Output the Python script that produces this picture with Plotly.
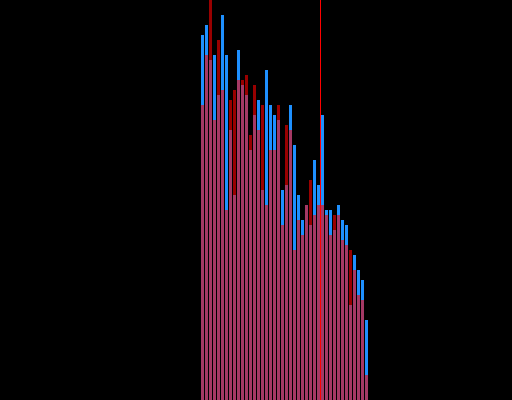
import plotly.graph_objects as go

# Bin index and counts
bins = list(range(42))
counts_blue = [73, 75, 68, 69, 61, 77, 69, 54, 41, 70, 63, 61, 50, 57, 60, 42,
               66, 59, 57, 56, 42, 43, 59, 51, 41, 36, 39, 35, 48, 43, 57, 38,
               38, 34, 39, 36, 35, 19, 29, 26, 24, 16]
counts_red = [59, 69, 85, 56, 72, 62, 38, 60, 62, 64, 64, 65, 53, 63, 54, 59,
              39, 50, 50, 59, 35, 55, 54, 30, 36, 33, 39, 44, 37, 39, 39, 37,
              33, 37, 37, 32, 31, 30, 26, 21, 20, 5]
marker_x = 29.5

fig = go.Figure()
fig.add_trace(go.Bar(x=bins, y=counts_blue, width=0.75,
                     marker=dict(color='rgb(30,144,255)', line_width=0),
                     name='A'))
fig.add_trace(go.Bar(x=bins, y=counts_red, width=0.75,
                     marker=dict(color='rgb(255,0,0)', line_width=0),
                     opacity=0.6, name='B'))

fig.add_vline(x=marker_x, line_color='red', line_width=1)

fig.update_layout(
    barmode='overlay',
    showlegend=False,
    paper_bgcolor='black',
    plot_bgcolor='black',
    width=512,
    height=400,
    margin=dict(l=0, r=0, t=0, b=0),
    xaxis=dict(visible=False, range=[-50.625, 77.375]),
    yaxis=dict(visible=False, range=[0, 80]),
)

# drop the page's default body margin so the black figure fills the window
fig.write_html("out.html", config={'displayModeBar': False},
               post_script="document.body.style.margin='0';")
